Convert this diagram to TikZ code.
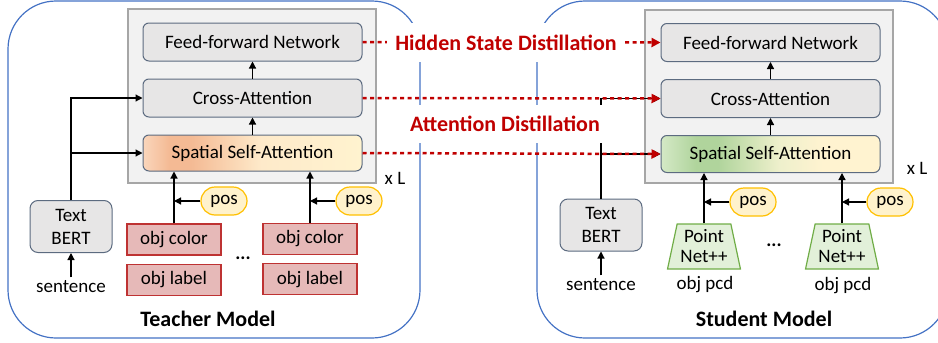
\documentclass[tikz,border=0pt]{standalone}
\usepackage{fontspec}
\setmainfont{Carlito}
\usepackage{tikz}
\usetikzlibrary{arrows.meta,positioning,shapes.geometric,shapes.misc}

\definecolor{modfill}{HTML}{E7E6E6}
\definecolor{modline}{HTML}{5C6B80}
\definecolor{layerfill}{HTML}{F2F2F2}
\definecolor{layerline}{HTML}{A6A6A6}
\definecolor{posfill}{HTML}{FFF2CC}
\definecolor{posline}{HTML}{FFC000}
\definecolor{objfill}{HTML}{E6B9B8}
\definecolor{objline}{RGB}{190,50,50}
\definecolor{pnfill}{HTML}{E2F0D9}
\definecolor{pnline}{HTML}{70AD47}
\definecolor{distred}{HTML}{C00000}
\definecolor{modelblue}{HTML}{4472C4}
\definecolor{tshA}{RGB}{250,214,188}
\definecolor{tshB}{RGB}{244,186,148}
\definecolor{tshC}{RGB}{254,234,202}
\definecolor{tshD}{RGB}{255,243,207}
\definecolor{sshA}{RGB}{212,233,198}
\definecolor{sshB}{RGB}{176,212,156}
\definecolor{sshC}{RGB}{238,240,204}
\definecolor{sshD}{RGB}{255,243,208}

\pgfdeclarehorizontalshading{teachershade}{100bp}{color(0bp)=(tshA); color(25bp)=(tshA);
  color(31bp)=(tshB); color(36bp)=(tshB); color(52bp)=(tshC); color(75bp)=(tshD); color(100bp)=(tshD)}
\pgfdeclarehorizontalshading{studentshade}{100bp}{color(0bp)=(sshA); color(25bp)=(sshA);
  color(33bp)=(sshB); color(38bp)=(sshB); color(52bp)=(sshC); color(62bp)=(sshD); color(100bp)=(sshD)}

\newcommand{\boldlabel}{\fontsize{22}{26}\selectfont\bfseries}

\begin{document}
\begin{tikzpicture}[x=1pt,y=-1pt,>={Triangle[length=7pt,width=7pt]},
    every node/.style={font=\fontsize{19}{23}\selectfont},
    module/.style={draw=modline,fill=modfill,line width=1pt,rounded corners=6pt,
      minimum width=219pt,minimum height=38pt,inner sep=0pt},
    layerbox/.style={draw=layerline,fill=layerfill,line width=1.3pt,inner sep=0pt},
    posbox/.style={rounded rectangle,draw=posline,fill=posfill,line width=1.2pt,
      minimum width=46pt,minimum height=28pt,inner sep=0pt},
    objbox/.style={draw=objline,fill=objfill,line width=1.2pt,
      minimum width=94pt,minimum height=31pt,inner sep=0pt},
    pointnet/.style={trapezium,trapezium angle=76,trapezium stretches=true,
      draw=pnline,fill=pnfill,line width=1.2pt,minimum width=73pt,minimum height=45pt,
      inner sep=1pt,align=center,font=\fontsize{19}{20}\selectfont},
    bertbox/.style={module,minimum width=82pt,minimum height=52pt,rounded corners=8pt,align=center},
    modelbox/.style={draw=modelblue,line width=1.2pt,rounded corners=48pt},
    link/.style={->,line width=1.2pt},
    distill/.style={draw=distred,line width=2.5pt,dash pattern=on 4pt off 3.5pt,
      -{Triangle[length=9pt,width=9pt]}},
    distlabel/.style={fill=white,text=distred,font=\boldlabel,inner xsep=8pt,
      inner ysep=0pt,minimum height=39pt}]
  \useasboundingbox (0,0) rectangle (938,343);
  \clip (0,0) rectangle (938,343);

  \draw[modelbox] (8,1) rectangle (420,338);
  \draw[modelbox] (537,1) rectangle (948,338);

  % teacher
  \node[layerbox,minimum width=248pt,minimum height=174pt] (tlayer) at (252,96) {};
  \node[module] (tffn) at (252.5,42) {Feed-forward Network};
  \node[module] (tcross) [below=17pt of tffn] {Cross-Attention};
  \node[module,shading=teachershade,minimum height=36pt] (tssa) [below=17pt of tcross] {Spatial Self-Attention};
  \node (txl) at (395,178) {x L};
  \node[bertbox] (tbert) at (71,226.5) {Text\\BERT};
  \node (tsent) at (71,287) {sentence};
  \node[objbox] (tcol1) at (174,239.5) {obj color};
  \node[objbox] (tlab1) [below=8pt of tcol1] {obj label};
  \node[objbox] (tcol2) at (310,239) {obj color};
  \node[objbox] (tlab2) [below=8pt of tcol2] {obj label};
  \node[posbox] (tpos1) at (224,201) {pos};
  \node[posbox] (tpos2) at (359,201) {pos};
  \node (tdots) at (243,258) {\textbf{...}};
  \node[font=\boldlabel] (tname) at (208,319) {Teacher Model};

  \draw[link] (tcross) -- (tffn);
  \draw[link] (tssa) -- (tcross);
  \draw[link] (tsent) -- (tbert);
  \draw[link] (tbert.north) |- (tcross.west);
  \draw[link] (tbert.north |- tssa.west) -- (tssa.west);
  \draw[link] (tcol1.north) -- (tcol1.north |- tssa.south);
  \draw[link] (tcol2.north) -- (tcol2.north |- tssa.south);
  \draw[link] (tpos1.west) -- (tcol1.north |- tpos1.west);
  \draw[link] (tpos2.west) -- (tcol2.north |- tpos2.west);

  % student
  \node[layerbox,minimum width=248pt,minimum height=173pt] (slayer) at (769,96.5) {};
  \node[module] (sffn) at (770.5,42.5) {Feed-forward Network};
  \node[module] (scross) [below=17pt of sffn] {Cross-Attention};
  \node[module,shading=studentshade,minimum height=37pt] (sssa) [below=17pt of scross] {Spatial Self-Attention};
  \node (sxl) at (917,168) {x L};
  \node[bertbox] (sbert) at (601,225) {Text\\BERT};
  \node (ssent) at (601,285) {sentence};
  \node[pointnet] (spn1) at (704,246.5) {Point\\Net++};
  \node[pointnet] (spn2) at (842,246.5) {Point\\Net++};
  \node (spcd1) at (705,285) {obj pcd};
  \node (spcd2) at (843,286) {obj pcd};
  \node[posbox] (spos1) at (753,202) {pos};
  \node[posbox] (spos2) at (890,202) {pos};
  \node (sdots) at (774,245) {\textbf{...}};
  \node[font=\boldlabel] (sname) at (764,319) {Student Model};

  \draw[link] (scross) -- (sffn);
  \draw[link] (sssa) -- (scross);
  \draw[link] (ssent) -- (sbert);
  \draw[link] (sbert.north) |- (scross.west);
  \draw[link] (sbert.north |- sssa.west) -- (sssa.west);
  \draw[link] (spn1.north) -- (spn1.north |- sssa.south);
  \draw[link] (spn2.north) -- (spn2.north |- sssa.south);
  \draw[link] (spos1.west) -- (spn1.north |- spos1.west);
  \draw[link] (spos2.west) -- (spn2.north |- spos2.west);

  % distillation
  \draw[distill] (tffn.east) -- (sffn.west);
  \draw[distill] (tcross.east) -- (scross.west);
  \draw[distill] (tssa.east) -- (sssa.west);
  \node[distlabel] (hidden) at (506,42.5) {Hidden State Distillation};
  \node[distlabel,minimum height=38pt] (attn) at (505,124) {Attention Distillation};
\end{tikzpicture}
\end{document}
